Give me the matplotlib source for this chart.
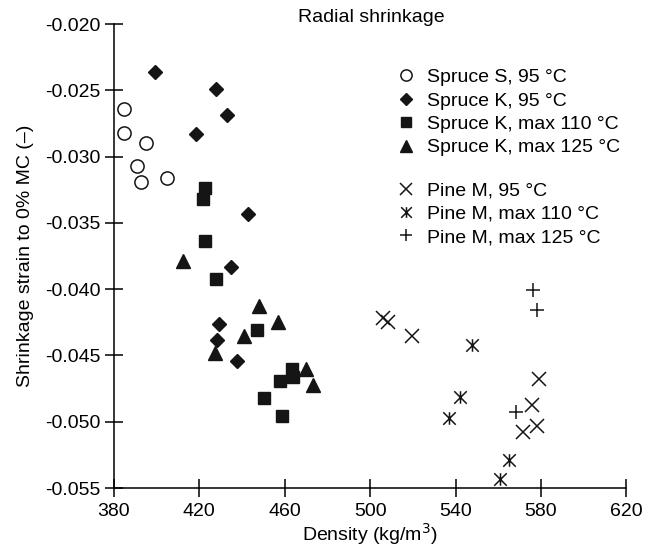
import matplotlib
matplotlib.use("Agg")
from matplotlib import pyplot as plt
from matplotlib.path import Path

plt.rcParams['font.family'] = ['Liberation Sans', 'DejaVu Sans']
plt.rcParams['font.size'] = 14

# density (kg/m3) and shrinkage strain
spruce_s_x = [384.7, 384.8, 394.8, 390.9, 392.5, 404.7]
spruce_s_y = [-0.0264, -0.0282, -0.0290, -0.0307, -0.0319, -0.0316]

spruce_k95_x = [399.3, 427.6, 432.8, 418.4, 442.6, 434.7, 429.2, 428.4, 437.5]
spruce_k95_y = [-0.0236, -0.0249, -0.0269, -0.0283, -0.0343, -0.0383, -0.0426, -0.0438, -0.0454]

spruce_k110_x = [422.8, 421.7, 422.6, 427.6, 447.0, 463.2, 463.7, 457.8, 450.4, 458.5]
spruce_k110_y = [-0.0324, -0.0332, -0.0364, -0.0392, -0.0431, -0.0460, -0.0466, -0.0469, -0.0482, -0.0496]

spruce_k125_x = [412.2, 448.1, 456.7, 440.9, 427.3, 469.9, 473.3]
spruce_k125_y = [-0.0379, -0.0413, -0.0425, -0.0435, -0.0448, -0.0460, -0.0472]

pine_95_x = [506.1, 508.5, 519.4, 578.9, 575.6, 578.0, 571.7]
pine_95_y = [-0.0422, -0.0425, -0.0435, -0.0468, -0.0487, -0.0503, -0.0508]

pine_110_x = [547.5, 542.1, 536.9, 565.0, 560.8]
pine_110_y = [-0.0442, -0.0481, -0.0497, -0.0529, -0.0543]

pine_125_x = [576.4, 578.0, 568.3]
pine_125_y = [-0.0401, -0.0416, -0.0493]

# X with a vertical stroke through it
star = Path([(-1, -1), (1, 1), (-1, 1), (1, -1), (0, -1), (0, 1)],
            [Path.MOVETO, Path.LINETO, Path.MOVETO, Path.LINETO, Path.MOVETO, Path.LINETO])

k = '#151515'
fig = plt.figure(figsize=(6.52, 5.51), dpi=100)
ax = fig.add_axes([0.1748, 0.1143, 0.7859, 0.8421])

s1, = ax.plot(spruce_s_x, spruce_s_y, 'o', ms=9.5, mfc='none', mec=k, mew=1.1, ls='none', clip_on=False)
s2, = ax.plot(spruce_k95_x, spruce_k95_y, 'D', ms=7, color=k, ls='none', clip_on=False)
s3, = ax.plot(spruce_k110_x, spruce_k110_y, 's', ms=9, color=k, ls='none', clip_on=False)
s4, = ax.plot(spruce_k125_x, spruce_k125_y, '^', ms=10, color=k, ls='none', clip_on=False)
p1, = ax.plot(pine_95_x, pine_95_y, 'x', ms=9.5, mew=1.1, color=k, ls='none', clip_on=False)
p2, = ax.plot(pine_110_x, pine_110_y, marker=star, ms=9, mew=1.1, color=k, ls='none', clip_on=False)
p3, = ax.plot(pine_125_x, pine_125_y, '+', ms=10, mew=1.1, color=k, ls='none', clip_on=False)

ax.set_xlim(380, 620)
ax.set_ylim(-0.055, -0.020)
ax.set_xticks([380, 420, 460, 500, 540, 580, 620])
ax.set_yticks([-0.020, -0.025, -0.030, -0.035, -0.040, -0.045, -0.050, -0.055])
ax.set_yticklabels(['%.3f' % v for v in ax.get_yticks()])
for sp in ['top', 'right']:
    ax.spines[sp].set_visible(False)
for sp in ['left', 'bottom']:
    ax.spines[sp].set_linewidth(1.1)
ax.tick_params(direction='inout', length=13, width=1.1, pad=3, labelsize=14)
ax.tick_params(axis='x', pad=4)

ax.set_xlabel('Density (kg/m$^3$)', labelpad=1)
ax.set_ylabel('Shrinkage strain to 0% MC (\u2013)', labelpad=8)
ax.text(0.502, 1.013, 'Radial shrinkage', transform=ax.transAxes, ha='center', va='center', fontsize=14)

kw = dict(loc='upper left', frameon=False, handlelength=0.8, handletextpad=0.7,
          labelspacing=0.3, borderpad=0, markerscale=0.85)
leg1 = ax.legend([s1, s2, s3, s4],
                 ['Spruce S, 95 \u00b0C', 'Spruce K, 95 \u00b0C', 'Spruce K, max 110 \u00b0C', 'Spruce K, max 125 \u00b0C'],
                 bbox_to_anchor=(0.535, 0.925), **kw)
ax.add_artist(leg1)
ax.legend([p1, p2, p3],
          ['Pine M, 95 \u00b0C', 'Pine M, max 110 \u00b0C', 'Pine M, max 125 \u00b0C'],
          bbox_to_anchor=(0.535, 0.681), **kw)

fig.savefig('out.png', dpi=100)
